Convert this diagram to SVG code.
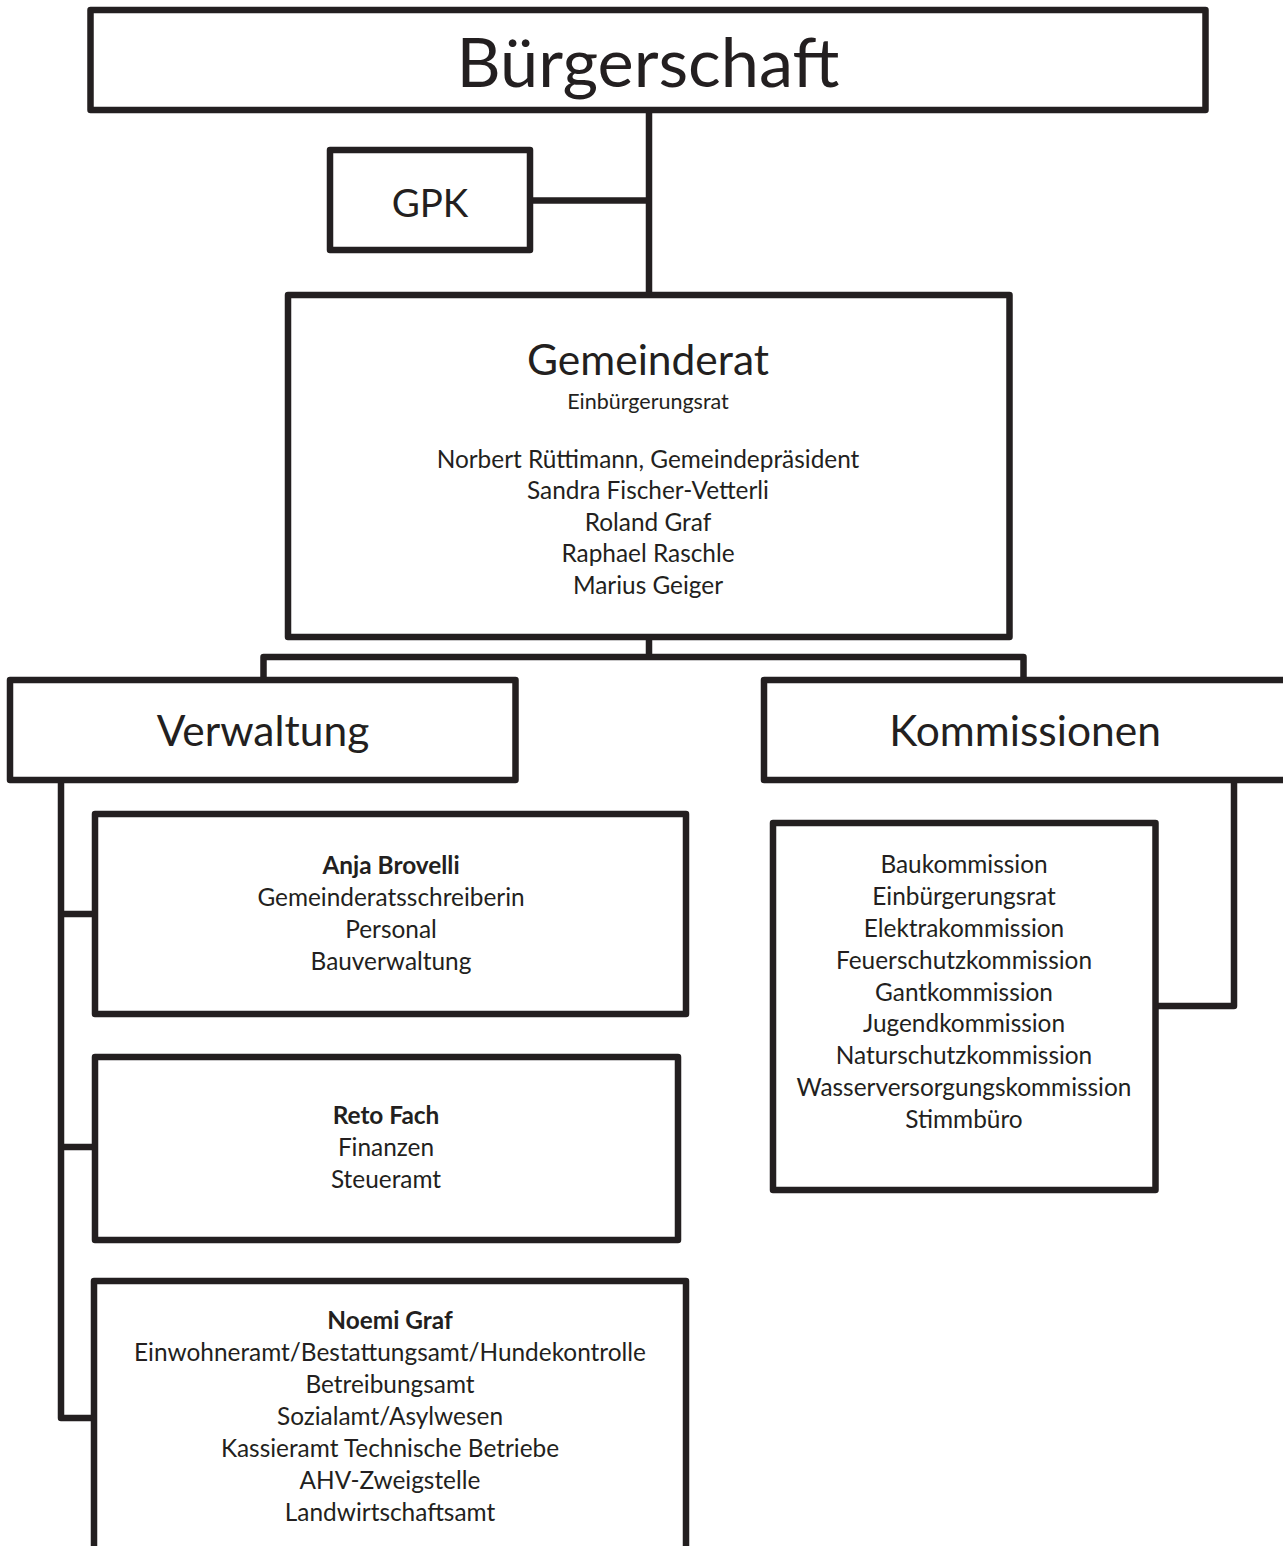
<svg xmlns="http://www.w3.org/2000/svg" width="1283" height="1546" viewBox="0 0 1283 1546">
<style>
.box{fill:#fff;stroke:#231f20;stroke-width:6.5;stroke-linejoin:round}
.con{fill:none;stroke:#231f20;stroke-width:6.5;stroke-linejoin:round}
text{font-family:Lato,"Open Sans","Liberation Sans",sans-serif;fill:#231f20;text-anchor:middle}
.big{font-size:68.5px}
.mid{font-size:42.5px}
.gpk{font-size:38.5px}
.t{font-size:24.4px}
.s{font-size:21.5px}
.b{font-weight:bold}
</style>
<rect width="1283" height="1546" fill="#fff"/>
<g id="connectors">
<path class="con" d="M649 110V295"/>
<path class="con" d="M530 200.5H649"/>
<path class="con" d="M649 637V657M263.5 681V657H1023.5V681"/>
<path class="con" d="M61 780V1418H95M61 914H95M61 1147H95"/>
<path class="con" d="M1234 780V1006H1155"/>
</g>
<g id="buergerschaft"><rect class="box" x="90.5" y="10" width="1115" height="100"/><text class="big" x="648" y="87">Bürgerschaft</text></g>
<g id="gpk"><rect class="box" x="330" y="150" width="200" height="100"/><text class="gpk" x="430" y="217">GPK</text></g>
<g id="gemeinderat"><rect class="box" x="288" y="295" width="721.5" height="342"/>
<text class="mid" x="648" y="375">Gemeinderat</text>
<text class="s" x="648" y="409">Einbürgerungsrat</text>
<text class="t" x="648" y="468">Norbert Rüttimann, Gemeindepräsident</text>
<text class="t" x="648" y="499">Sandra Fischer-Vetterli</text>
<text class="t" x="648" y="531">Roland Graf</text>
<text class="t" x="648" y="562">Raphael Raschle</text>
<text class="t" x="648" y="594">Marius Geiger</text>
</g>
<g id="verwaltung"><rect class="box" x="10" y="680" width="505.5" height="100"/><text class="mid" x="263" y="746">Verwaltung</text></g>
<g id="kommissionen"><rect class="box" x="764" y="680" width="540" height="100"/><text class="mid" x="1025" y="746">Kommissionen</text></g>
<g id="anja"><rect class="box" x="95" y="814" width="591" height="200"/>
<text class="t b" x="391" y="874">Anja Brovelli</text>
<text class="t" x="391" y="906">Gemeinderatsschreiberin</text>
<text class="t" x="391" y="938">Personal</text>
<text class="t" x="391" y="970">Bauverwaltung</text>
</g>
<g id="reto"><rect class="box" x="95" y="1057" width="583" height="183"/>
<text class="t b" x="386" y="1124">Reto Fach</text>
<text class="t" x="386" y="1156">Finanzen</text>
<text class="t" x="386" y="1188">Steueramt</text>
</g>
<g id="noemi"><rect class="box" x="94" y="1281" width="592" height="300"/>
<text class="t b" x="390" y="1329">Noemi Graf</text>
<text class="t" x="390" y="1361">Einwohneramt/Bestattungsamt/Hundekontrolle</text>
<text class="t" x="390" y="1393">Betreibungsamt</text>
<text class="t" x="390" y="1425">Sozialamt/Asylwesen</text>
<text class="t" x="390" y="1457">Kassieramt Technische Betriebe</text>
<text class="t" x="390" y="1489">AHV-Zweigstelle</text>
<text class="t" x="390" y="1521">Landwirtschaftsamt</text>
</g>
<g id="kommissionsliste"><rect class="box" x="773" y="823" width="382.5" height="367"/>
<text class="t" x="964" y="873">Baukommission</text>
<text class="t" x="964" y="905">Einbürgerungsrat</text>
<text class="t" x="964" y="937">Elektrakommission</text>
<text class="t" x="964" y="969">Feuerschutzkommission</text>
<text class="t" x="964" y="1001">Gantkommission</text>
<text class="t" x="964" y="1032">Jugendkommission</text>
<text class="t" x="964" y="1064">Naturschutzkommission</text>
<text class="t" x="964" y="1096">Wasserversorgungskommission</text>
<text class="t" x="964" y="1128">Stimmbüro</text>
</g>
</svg>
